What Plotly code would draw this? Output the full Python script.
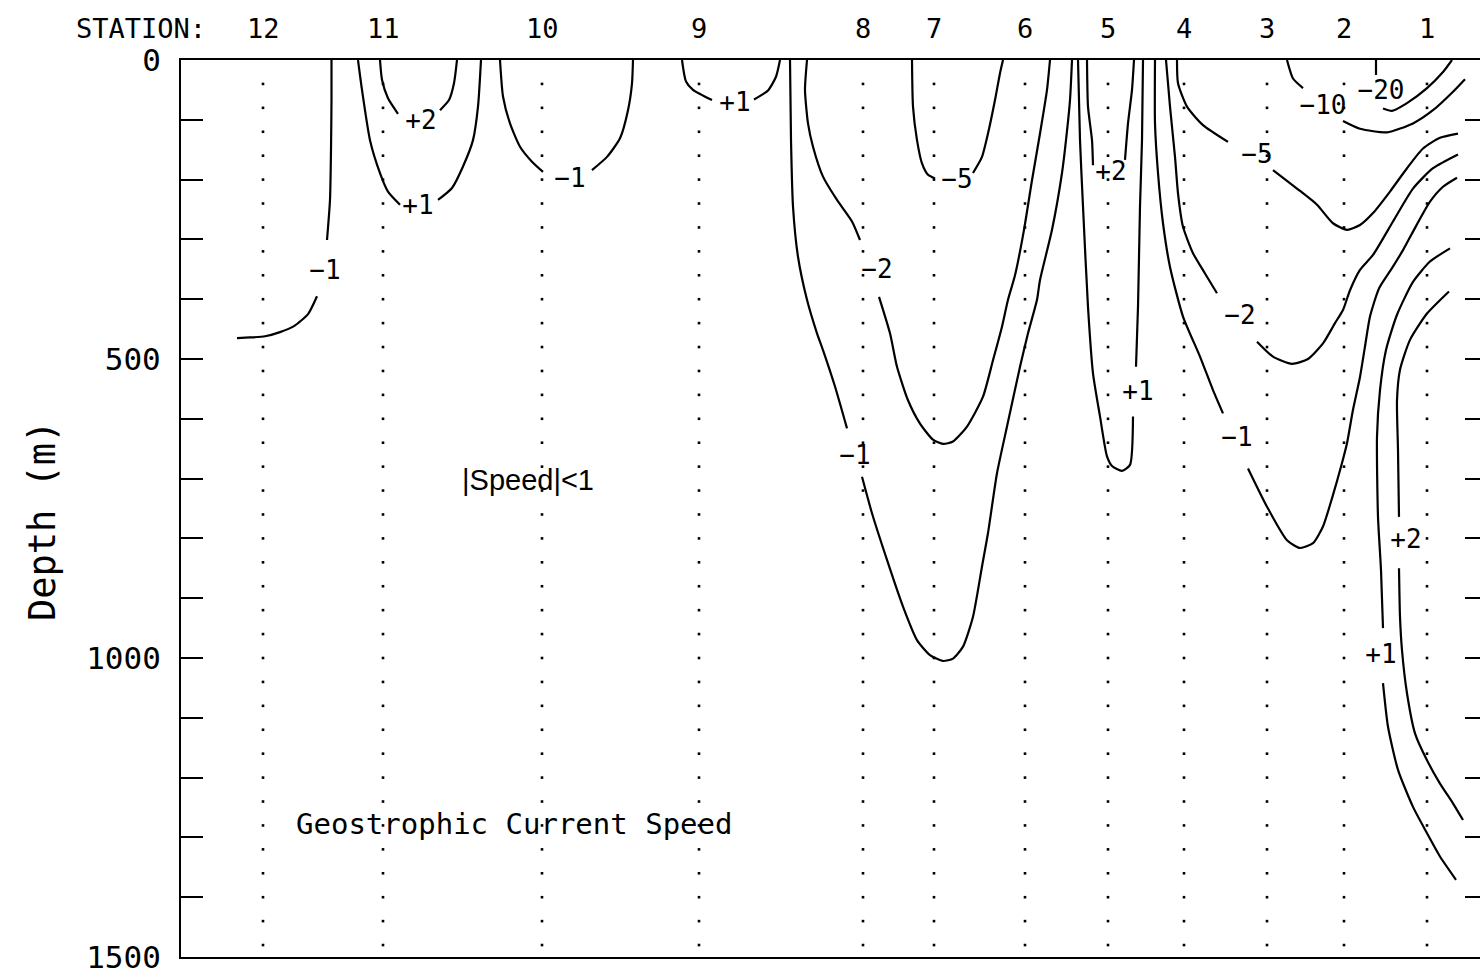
import plotly.graph_objects as go

# ---------------------------------------------------------------------------
# Section geometry: distance along the section (0 = left frame) and depth (m)
# ---------------------------------------------------------------------------
station_x = [82, 202, 361, 518, 682, 753, 844, 927, 1003, 1086, 1163, 1246]
station_names = ["12", "11", "10", "9", "8", "7", "6", "5", "4", "3", "2", "1"]
sample_depths = [40, 80, 120, 160, 200, 240, 280, 320, 360, 400, 440, 480,
                 520, 560, 600, 640, 680, 720, 760, 800, 840, 880, 920, 960,
                 1000, 1040, 1080, 1120, 1160, 1200, 1240, 1280, 1320, 1360,
                 1400, 1440, 1480]

# ---------------------------------------------------------------------------
# Contour polylines of geostrophic speed. None leaves the gap for the label.
# ---------------------------------------------------------------------------
# -1, west of station 11
west_m1_x = [150.5, 150.5, 150, 149, 146, None, 136, 127, 113, 99, 84, 69, 56]
west_m1_d = [0, 67, 150, 234, 301, None, 395, 425, 445, 455, 462, 464, 465]

# +1 and +2 cores at station 11
st11_p1_x = [177, 181, 189, 199, 207, 219, None, 257, 271, 282, 292, 297, 300]
st11_p1_d = [0, 50, 134, 189, 220, 242, None, 234, 214, 178, 134, 78, 0]
st11_p2_x = [199, 201, 207, 217, None, 259, 268, 273, 276]
st11_p2_d = [0, 33, 64, 90, None, 84, 67, 39, 0]

# -1 at station 10
st10_m1_x = [319, 322, 329, 339, 351, 362, None, 411, 426, 439, 447, 451, 452]
st10_m1_d = [0, 61, 106, 145, 170, 187, None, 184, 162, 131, 84, 39, 0]

# +1 at station 9
st9_p1_x = [501, 505, 512, 531, None, 573, 587, 595, 599]
st9_p1_d = [0, 36, 50, 67, None, 66, 51, 28, 0]

# -1, -2, -5 around stations 8-6
st7_m1_x = [609, 610, 612, 617, 626, 636, 642, 654, 666, None,
            681, 691, 706, 722, 736, 749, 762, 772, 782, 792, 801, 807,
            816, 826, 839, 847, 856, 859, 871, 881, 885, 889, 891]
st7_m1_d = [0, 134, 245, 329, 401, 457, 485, 546, 616, None,
            697, 758, 836, 914, 970, 995, 1005, 1001, 981, 931, 847, 791,
            691, 613, 513, 457, 401, 368, 284, 189, 134, 67, 0]
st7_m2_x = [626, 624, 627, 632, 642, 656, 671, 679, None,
            698, 709, 716, 727, 739, 752, 762, 772, 786, 802, 812, 821,
            827, 834, 843, 851, 859, 866, 869]
st7_m2_d = [0, 50, 106, 145, 195, 234, 270, 301, None,
            396, 457, 513, 569, 608, 635, 642, 638, 613, 563, 502, 446,
            401, 360, 284, 201, 123, 50, 0]
st7_m5_x = [731, 732, 736, 741, 747, 754, None, 792, 801, 807, 814, 819, 822]
st7_m5_d = [0, 78, 134, 173, 192, 198, None, 189, 162, 123, 67, 22, 0]

# +1 and +2 at station 5
st5_p1_x = [897, 899, 902, 907, 912, 919, 926, 931, 941, 949, 952, None,
            955, 957, 959, 961, 962]
st5_p1_d = [0, 134, 245, 413, 524, 596, 663, 679, 687, 677, 596, None,
            513, 413, 245, 134, 0]
st5_p2_x = [906, 907, 911, 912, None, 944, 947, 951, 953]
st5_p2_d = [0, 78, 134, 176, None, 167, 106, 50, 0]

# -1, -2, -5 east of station 4
east_m1_x = [974, 974, 977, 982, 989, 1002, 1019, 1032, 1042, None,
             1067, 1086, 1106, 1119, 1132, 1142, 1151, 1161, 1166, 1172,
             1179, 1184, 1189, 1198, 1211, 1222, 1232, 1249, 1262, 1276]
east_m1_d = [0, 106, 189, 273, 346, 429, 496, 552, 591, None,
             683, 747, 803, 816, 808, 780, 733, 674, 641, 585,
             530, 479, 429, 382, 348, 318, 287, 237, 212, 197]
east_m2_x = [985, 989, 994, 997, 1002, 1012, 1024, 1036, None,
             1076, 1092, 1111, 1127, 1142, 1154, 1162, 1169, 1179, 1192,
             1212, 1232, 1252, 1277]
east_m2_d = [0, 78, 162, 223, 279, 323, 357, 390, None,
             471, 496, 508, 500, 474, 440, 418, 385, 351, 326,
             270, 215, 181, 158]
east_m5_x = [996, 997, 1006, 1022, 1047, None,
             1092, 1116, 1136, 1152, 1166, 1179, 1192, 1209, 1226, 1242,
             1259, 1277]
east_m5_d = [0, 39, 78, 109, 137, None,
             184, 215, 242, 273, 284, 276, 256, 220, 181, 148,
             130, 123]

# -10 and -20 near stations 2-1
st2_m10_x = [1106, 1112, 1122, None, 1162, 1179, 1206, 1232, 1252, 1272, 1284]
st2_m10_d = [0, 31, 47, None, 102, 115, 121, 106, 84, 53, 32]
st1_m20_x = [1195, 1195, None, 1202, 1211, 1226, 1246, 1262, 1271]
st1_m20_d = [0, 25, None, 81, 85, 72, 47, 20, 0]

# +1 and +2 deep flow at station 1
st1_p1_x = [1269, 1249, 1232, 1216, 1205, 1199, 1196, 1197, 1200, 1202, None,
            1202, 1207, 1217, 1232, 1246, 1259, 1275]
st1_p1_d = [315, 337, 371, 426, 485, 552, 630, 764, 853, 950, None,
            1042, 1115, 1187, 1249, 1293, 1332, 1371]
st1_p2_x = [1268, 1246, 1229, 1219, 1216, 1217, 1218, None,
            1218, 1219, 1221, 1226, 1234, 1246, 1259, 1272, 1282]
st1_p2_d = [387, 424, 468, 518, 569, 652, 764, None,
            850, 931, 987, 1059, 1126, 1171, 1210, 1243, 1271]

contours = [
    (-1, west_m1_x, west_m1_d),
    (1, st11_p1_x, st11_p1_d),
    (2, st11_p2_x, st11_p2_d),
    (-1, st10_m1_x, st10_m1_d),
    (1, st9_p1_x, st9_p1_d),
    (-1, st7_m1_x, st7_m1_d),
    (-2, st7_m2_x, st7_m2_d),
    (-5, st7_m5_x, st7_m5_d),
    (1, st5_p1_x, st5_p1_d),
    (2, st5_p2_x, st5_p2_d),
    (-1, east_m1_x, east_m1_d),
    (-2, east_m2_x, east_m2_d),
    (-5, east_m5_x, east_m5_d),
    (-10, st2_m10_x, st2_m10_d),
    (-20, st1_m20_x, st1_m20_d),
    (1, st1_p1_x, st1_p1_d),
    (2, st1_p2_x, st1_p2_d),
]

# contour label positions and their levels
label_level = [-1, 1, 2, -1, 1, -1, -2, -5, 1, 2, -1, -2, -5, -10, -20, 2, 1]
label_x = [144, 237, 240, 389, 554, 674, 696, 776, 957, 930,
           1056, 1059, 1076, 1142, 1200, 1225, 1200]
label_d = [356, 247, 104, 201, 75, 664, 354, 204, 557, 189,
           635, 430, 162, 80, 54, 806, 997]

MONO = "DejaVu Sans Mono"
X_MAX = 1299

fig = go.Figure()

# dotted station verticals
dot_x = [sx for sx in station_x for _ in sample_depths]
dot_d = [d for _ in station_x for d in sample_depths]
fig.add_trace(go.Scatter(
    x=dot_x, y=dot_d, mode="markers",
    marker=dict(size=2.6, color="black", symbol="square"),
    hoverinfo="skip", showlegend=False,
))

for level, cx, cd in contours:
    fig.add_trace(go.Scatter(
        x=cx, y=cd, mode="lines",
        line=dict(color="black", width=2.2, shape="spline", smoothing=0.6),
        connectgaps=False, name=f"{level:+d}",
        showlegend=False, hoverinfo="skip",
    ))


def level_text(v):
    return f"{v:+d}".replace("-", "\u2212")


fig.add_trace(go.Scatter(
    x=label_x, y=label_d, mode="text",
    text=[level_text(v) for v in label_level],
    textposition="middle center",
    textfont=dict(family=MONO, size=26, color="black"),
    showlegend=False, hoverinfo="skip",
))

# carrier for the right-hand tick axis
fig.add_trace(go.Scatter(x=[None], y=[None], yaxis="y2",
                         showlegend=False, hoverinfo="skip"))

annotations = [
    dict(text="STATION:", xref="paper", yref="paper", x=-40 / X_MAX, y=1,
         yshift=32, showarrow=False, xanchor="center", yanchor="middle",
         font=dict(family=MONO, size=27, color="black")),
    dict(text="Depth (m)", xref="paper", yref="paper", x=-139 / X_MAX,
         y=0.486, textangle=-90, showarrow=False,
         xanchor="center", yanchor="middle",
         font=dict(family=MONO, size=37, color="black")),
    dict(text="|Speed|&lt;1", xref="x", yref="y", x=347, y=702,
         showarrow=False, xanchor="center", yanchor="middle",
         font=dict(family="Liberation Sans", size=29, color="black")),
    dict(text="Geostrophic Current Speed", xref="x", yref="y", x=333, y=1278,
         showarrow=False, xanchor="center", yanchor="middle",
         font=dict(family=MONO, size=29, color="black")),
]
for sx, name in zip(station_x, station_names):
    annotations.append(dict(
        text=name, xref="x", yref="paper", x=sx, y=1, yshift=32,
        showarrow=False, xanchor="center", yanchor="middle",
        font=dict(family=MONO, size=27, color="black")))

fig.update_layout(
    width=1480, height=977,
    margin=dict(l=181, r=0, t=60, b=20, pad=0),
    paper_bgcolor="white", plot_bgcolor="white",
    xaxis=dict(range=[0, X_MAX], showline=True, mirror=True,
               linecolor="black", linewidth=2, ticks="",
               showticklabels=False, showgrid=False, zeroline=False),
    yaxis=dict(range=[1500, 0], showline=True, linecolor="black",
               linewidth=2, ticks="inside", ticklen=22, tickwidth=2,
               tickcolor="black", tickvals=[0, 500, 1000, 1500],
               ticktext=["0", "500", "1000", "1500"],
               tickfont=dict(family=MONO, size=31, color="black"),
               ticklabelstandoff=12,
               minor=dict(dtick=100, tick0=0, ticks="inside", ticklen=22,
                          tickwidth=2, tickcolor="black", showgrid=False),
               showgrid=False, zeroline=False),
    yaxis2=dict(range=[1500, 0], overlaying="y", side="right",
                showline=False, ticks="inside", ticklen=15, tickwidth=2,
                tickcolor="black", tick0=0, dtick=100,
                showticklabels=False, showgrid=False, zeroline=False),
    annotations=annotations,
    showlegend=False,
)

fig.write_html("out.html")
